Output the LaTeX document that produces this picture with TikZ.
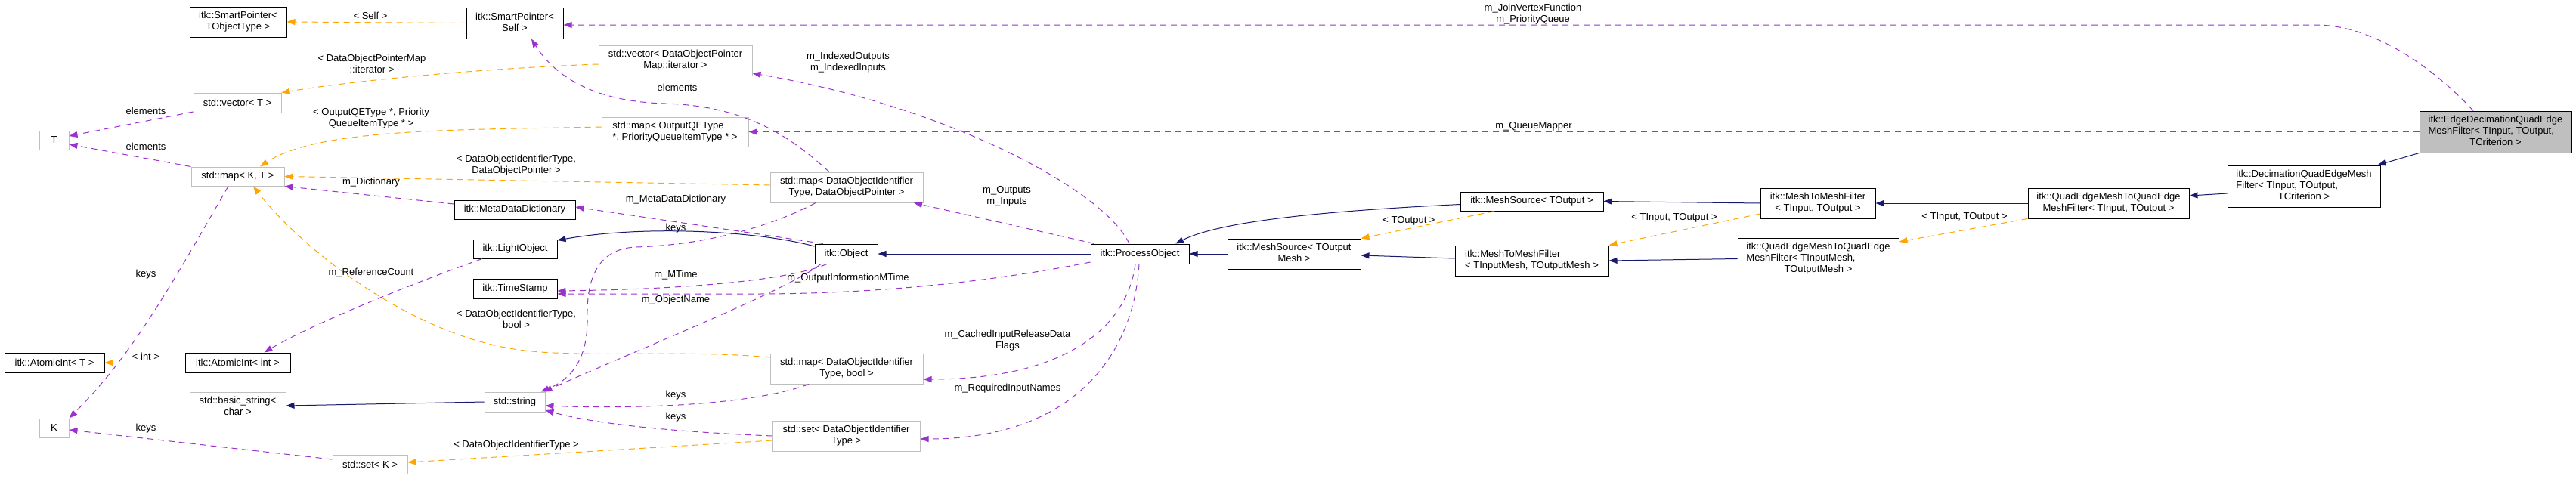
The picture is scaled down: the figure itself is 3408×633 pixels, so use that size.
\documentclass[tikz,border=0pt]{standalone}
\usepackage{fontspec}
\setmainfont{Liberation Sans}
\usepackage{tikz}
\usetikzlibrary{arrows.meta}

\definecolor{usecol}{HTML}{9A32CD}
\definecolor{tmplcol}{HTML}{FFA500}
\definecolor{inhcol}{HTML}{191970}
\definecolor{nodocgray}{HTML}{BFBFBF}

\newcommand{\dgfont}{\fontsize{13}{15}\selectfont}
\newcommand{\dlab}[2]{\begin{tabular}{@{}l@{}}#1\\\multicolumn{1}{@{}c@{}}{#2}\end{tabular}}

\begin{document}
\begin{tikzpicture}[
    x=1pt, y=-1pt,
    every node/.style={font=\dgfont},
    cls/.style={rectangle, draw=black, fill=white, line width=1pt, inner sep=0pt, align=center},
    extcls/.style={cls, draw=nodocgray},
    focus/.style={cls, fill=nodocgray},
    sz/.style 2 args={minimum width=#1pt, minimum height=#2pt},
    lbl/.style={inner sep=0pt, align=center},
    usedby/.style={draw=usecol, line width=1pt, dash pattern=on 8pt off 6pt, -{Triangle[length=11pt, width=8pt]}},
    tmpl/.style={usedby, draw=tmplcol},
    inherit/.style={draw=inhcol, line width=1pt, -{Triangle[length=11pt, width=8pt]}},
]
\useasboundingbox (0,0) rectangle (3408,633);

\node[cls, sz={128}{40}] (spTObj) at (315,29) {\dlab{itk::SmartPointer<}{TObjectType >}};
\node[extcls, sz={116}{26}] (vecT) at (314,136) {std::vector< T >};
\node[extcls, sz={39}{25}] (tT) at (71.5,185.5) {T};
\node[extcls, sz={123}{25}] (mapKT) at (314.5,233.5) {std::map< K, T >};
\node[cls, sz={132}{26}] (aiT) at (72,480) {itk::AtomicInt< T >};
\node[cls, sz={139}{26}] (aiInt) at (314.5,480) {itk::AtomicInt< int >};
\node[extcls, sz={127}{39}] (bstr) at (314.5,538.5) {\dlab{std::basic\_string<}{char >}};
\node[extcls, sz={39}{25}] (tK) at (71.5,566.5) {K};
\node[extcls, sz={99}{25}] (setK) at (489.5,614.5) {std::set< K >};
\node[cls, sz={128}{41}] (spSelf) at (681,30.5) {\dlab{itk::SmartPointer<}{Self >}};
\node[extcls, sz={203}{40}] (vecDOP) at (893.5,80) {\dlab{std::vector< DataObjectPointer}{Map::iterator >}};
\node[extcls, sz={194}{39}] (mapQE) at (893,174.5) {\dlab{std::map< OutputQEType}{*, PriorityQueueItemType * >}};
\node[extcls, sz={202}{40}] (mapDOP) at (1120,248) {\dlab{std::map< DataObjectIdentifier}{Type, DataObjectPointer >}};
\node[cls, sz={160}{25}] (mdd) at (681,277.5) {itk::MetaDataDictionary};
\node[cls, sz={111}{25}] (light) at (681.5,329.5) {itk::LightObject};
\node[cls, sz={111}{26}] (tstamp) at (681.5,382) {itk::TimeStamp};
\node[extcls, sz={80}{26}] (str) at (681,532) {std::string};
\node[extcls, sz={202}{40}] (mapBool) at (1120,488) {\dlab{std::map< DataObjectIdentifier}{Type, bool >}};
\node[extcls, sz={195}{40}] (setDOI) at (1119.5,577) {\dlab{std::set< DataObjectIdentifier}{Type >}};
\node[cls, sz={83}{26}] (obj) at (1119.5,336) {itk::Object};
\node[cls, sz={130}{26}] (proc) at (1508,336) {itk::ProcessObject};
\node[cls, sz={176}{40}] (srcMesh) at (1712,336) {\dlab{itk::MeshSource< TOutput}{Mesh >}};
\node[cls, sz={189}{25}] (srcOut) at (2026.5,266.5) {itk::MeshSource< TOutput >};
\node[cls, sz={203}{40}] (m2mMesh) at (2026.5,345) {\dlab{itk::MeshToMeshFilter}{< TInputMesh, TOutputMesh >}};
\node[cls, sz={152}{40}] (m2mIO) at (2405,269) {\dlab{itk::MeshToMeshFilter}{< TInput, TOutput >}};
\node[cls, sz={213}{55}] (qeMesh) at (2405.5,342.5) {\dlab{itk::QuadEdgeMeshToQuadEdge\\MeshFilter< TInputMesh,}{TOutputMesh >}};
\node[cls, sz={213}{40}] (qeIO) at (2789.5,269) {\dlab{itk::QuadEdgeMeshToQuadEdge}{MeshFilter< TInput, TOutput >}};
\node[cls, sz={202}{55}] (decim) at (3048,246.5) {\dlab{itk::DecimationQuadEdgeMesh\\Filter< TInput, TOutput,}{TCriterion >}};
\node[focus, sz={201}{55}] (edgeDec) at (3301.5,174.5) {\dlab{itk::EdgeDecimationQuadEdge\\MeshFilter< TInput, TOutput,}{TCriterion >}};

\draw[usedby] ([xshift=-29.5pt]edgeDec.north) .. controls (3220,90) and (3140,33) .. (3064,33) -- ([yshift=-2.5pt]spSelf.east);
\draw[usedby] (edgeDec.west) -- (mapQE.east);
\draw[usedby] ([xshift=-14pt]proc.north) .. controls (1460,250) and (1250,140) .. ([yshift=-17pt]vecDOP.east);
\draw[usedby] ([xshift=-60pt]proc.north) -- ([xshift=89pt]mapDOP.south);
\draw[usedby] ([xshift=-23pt]mapDOP.north) .. controls (1040,175) and (980,140) .. (880,137) .. controls (800,135) and (740,110) .. ([xshift=22pt]spSelf.south);
\draw[usedby] ([xshift=-30.5pt]obj.north) -- ([yshift=3.5pt]mdd.east);
\draw[usedby] ([xshift=-25.5pt]obj.south) .. controls (1040,372) and (900,383) .. ([yshift=-3pt]tstamp.east);
\draw[usedby] ([yshift=-11pt]proc.west) .. controls (1300,375) and (1150,389) .. (1000,389) -- ([yshift=-7pt]tstamp.east);
\draw[usedby] ([xshift=-33.5pt]obj.south) .. controls (1040,385) and (850,460) .. ([xshift=-2pt]str.north east);
\draw[usedby] ([xshift=-41pt]mapDOP.south) .. controls (1010,305) and (920,325) .. (840,327) .. controls (790,330) and (776,370) .. (777,420) .. controls (778,470) and (760,500) .. ([xshift=-6pt]str.north east);
\draw[usedby] ([xshift=-50pt]mapBool.south) .. controls (1000,535) and (850,542) .. ([yshift=-5pt]str.east);
\draw[usedby] (setDOI.west) .. controls (900,572) and (790,562) .. ([yshift=-11pt]str.east);
\draw[usedby] ([xshift=-6pt]proc.south) .. controls (1490,440) and (1400,502) .. ([yshift=-14pt]mapBool.east);
\draw[usedby] ([xshift=-1pt]proc.south) .. controls (1500,470) and (1420,581) .. ([yshift=-4pt]setDOI.east);
\draw[usedby] ([yshift=-12pt]vecT.west) -- ([yshift=5.5pt]tT.east);
\draw[usedby] (mapKT.north west) -- ([yshift=-5.5pt]tT.east);
\draw[usedby] ([xshift=-12.5pt]mapKT.south) .. controls (225,380) and (175,470) .. (tK.north east);
\draw[usedby] ([yshift=6.5pt]setK.west) -- ([yshift=-2.5pt]tK.east);
\draw[usedby] ([yshift=7.5pt]mdd.west) -- (mapKT.south east);
\draw[usedby] ([xshift=-43.5pt]light.south) .. controls (560,370) and (420,425) .. ([xshift=35pt]aiInt.north);

\draw[tmpl] (spSelf.west) -- (spTObj.east);
\draw[tmpl] ([yshift=-5pt]vecDOP.west) .. controls (650,90) and (480,105) .. (vecT.north east);
\draw[tmpl] ([yshift=6.5pt]mapQE.west) .. controls (600,172) and (420,170) .. ([xshift=29.5pt]mapKT.north);
\draw[tmpl] ([yshift=3pt]mapDOP.west) -- (mapKT.east);
\draw[tmpl] ([yshift=15pt]mapBool.west) .. controls (900,462) and (760,475) .. (680,462) .. controls (540,440) and (400,330) .. ([xshift=20.5pt]mapKT.south);
\draw[tmpl] ([yshift=-6pt]setDOI.west) -- ([yshift=2.5pt]setK.east);
\draw[tmpl] (aiInt.west) -- (aiT.east);
\draw[tmpl] ([xshift=-49.5pt]srcOut.south) -- (srcMesh.north east);
\draw[tmpl] ([yshift=-14pt]m2mIO.west) -- (m2mMesh.north east);
\draw[tmpl] (qeIO.south west) -- ([yshift=22.5pt]qeMesh.east);

\draw[inherit] (proc.west) -- (obj.east);
\draw[inherit] ([yshift=10pt]obj.west) .. controls (1000,305) and (850,298) .. ([yshift=11.5pt]light.east);
\draw[inherit] (srcMesh.west) -- (proc.east);
\draw[inherit] ([yshift=-4pt]srcOut.west) .. controls (1780,278) and (1620,290) .. ([xshift=47pt]proc.north);
\draw[inherit] ([yshift=3pt]m2mMesh.west) -- ([yshift=-2pt]srcMesh.east);
\draw[inherit] (m2mIO.west) -- (srcOut.east);
\draw[inherit] (qeMesh.west) -- (m2mMesh.east);
\draw[inherit] (qeIO.west) -- (m2mIO.east);
\draw[inherit] ([yshift=-9.5pt]decim.west) -- ([yshift=10pt]qeIO.east);
\draw[inherit] (edgeDec.south west) -- ([xshift=-4pt]decim.north east);
\draw[inherit] (str.west) -- ([yshift=1.5pt]bstr.east);

\node[lbl] (lSelf) at (490,21) {< Self >};
\node[lbl] (lIter) at (492,84) {< DataObjectPointerMap\\::iterator >};
\node[lbl] (lElemV) at (193,147) {elements};
\node[lbl] (lQE) at (491,157) {< OutputQEType *, Priority\\QueueItemType * >};
\node[lbl] (lElemM) at (193,194) {elements};
\node[lbl] (lDict) at (491,241) {m\_Dictionary};
\node[lbl] (lKeysM) at (193,363) {keys};
\node[lbl] (lRef) at (491,361) {m\_ReferenceCount};
\node[lbl] (lInt) at (193,472) {< int >};
\node[lbl] (lKeysS) at (193,567) {keys};
\node[lbl] (lElemD) at (896,116) {elements};
\node[lbl] (lDOIptr) at (683,219) {< DataObjectIdentifierType,\\DataObjectPointer >};
\node[lbl] (lMDD) at (894,264) {m\_MetaDataDictionary};
\node[lbl] (lKeysD) at (894,302) {keys};
\node[lbl] (lIdx) at (1122,83) {m\_IndexedOutputs\\m\_IndexedInputs};
\node[lbl] (lMTime) at (894,364) {m\_MTime};
\node[lbl] (lName) at (894,397) {m\_ObjectName};
\node[lbl] (lOutInfo) at (1122,368) {m\_OutputInformationMTime};
\node[lbl] (lDOIbool) at (683,422) {< DataObjectIdentifierType,\\bool >};
\node[lbl] (lKeysB) at (894,523) {keys};
\node[lbl] (lKeysT) at (894,552) {keys};
\node[lbl] (lDOIset) at (683,589) {< DataObjectIdentifierType >};
\node[lbl] (lOutIn) at (1332,260) {m\_Outputs\\m\_Inputs};
\node[lbl] (lCached) at (1333,451) {m\_CachedInputReleaseData\\Flags};
\node[lbl] (lReq) at (1333,514) {m\_RequiredInputNames};
\node[lbl] (lJoin) at (2028,19) {m\_JoinVertexFunction\\m\_PriorityQueue};
\node[lbl] (lQMap) at (2029,167) {m\_QueueMapper};
\node[lbl] (lTOut) at (1864,292) {< TOutput >};
\node[lbl] (lTIOa) at (2215,288) {< TInput, TOutput >};
\node[lbl] (lTIOb) at (2599,287) {< TInput, TOutput >};

\end{tikzpicture}
\end{document}
